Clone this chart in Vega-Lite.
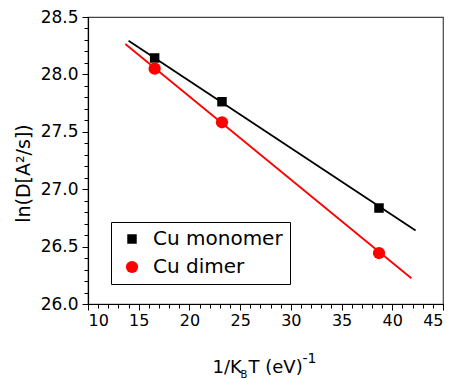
{
  "$schema": "https://vega.github.io/schema/vega-lite/v6.json",
  "width": 355,
  "height": 287,
  "autosize": "none",
  "padding": {"left": 88, "top": 17, "right": 10, "bottom": 75},
  "background": "white",
  "config": {
    "view": {"stroke": "#444", "strokeWidth": 1.2},
    "font": "DejaVu Sans",
    "axis": {
      "labelFont": "DejaVu Sans", "titleFont": "DejaVu Sans",
      "domainColor": "black", "tickColor": "black", "labelColor": "black", "titleColor": "black",
      "grid": false, "titleFontWeight": "normal", "domainWidth": 1.2, "tickWidth": 1
    }
  },
  "datasets": {
    "pts": [
      {"series": "Cu monomer", "x": 16.57, "y": 28.143},
      {"series": "Cu monomer", "x": 23.21, "y": 27.762},
      {"series": "Cu monomer", "x": 38.69, "y": 26.836},
      {"series": "Cu dimer", "x": 16.57, "y": 28.05},
      {"series": "Cu dimer", "x": 23.21, "y": 27.583},
      {"series": "Cu dimer", "x": 38.69, "y": 26.444}
    ],
    "fit": [
      {"series": "Cu monomer", "x": 14.0, "y": 28.294},
      {"series": "Cu monomer", "x": 42.3, "y": 26.64},
      {"series": "Cu dimer", "x": 13.68, "y": 28.265},
      {"series": "Cu dimer", "x": 41.88, "y": 26.224}
    ]
  },
  "layer": [
    {
      "data": {"name": "fit"},
      "transform": [{"filter": "datum.series === 'Cu monomer'"}],
      "mark": {"type": "line", "color": "black", "strokeWidth": 1.8},
      "encoding": {
        "x": {"field": "x", "type": "quantitative", "scale": {"domain": [10, 45], "nice": false, "zero": false},
          "axis": {"orient": "bottom", "labels": false, "ticks": false, "domain": false, "title": "T (eV)",
            "titleX": 160, "titleY": 68, "titleAlign": "left", "titleBaseline": "alphabetic", "titleFontSize": 18}},
        "y": {"field": "y", "type": "quantitative", "scale": {"domain": [26, 28.5], "nice": false, "zero": false}, "axis": null}
      }
    },
    {
      "data": {"name": "fit"},
      "transform": [{"filter": "datum.series === 'Cu dimer'"}],
      "mark": {"type": "line", "color": "#ff0000", "strokeWidth": 1.8},
      "encoding": {
        "x": {"field": "x", "type": "quantitative",
          "axis": {"orient": "bottom", "labels": false, "ticks": false, "domain": false, "title": "-1",
            "titleX": 214, "titleY": 58, "titleAlign": "left", "titleBaseline": "alphabetic", "titleFontSize": 14}},
        "y": {"field": "y", "type": "quantitative", "axis": null}
      }
    },
    {
      "data": {"name": "pts"},
      "transform": [{"filter": "datum.series === 'Cu monomer'"}],
      "mark": {"type": "point", "filled": true, "opacity": 1},
      "encoding": {
        "x": {"field": "x", "type": "quantitative",
          "axis": {"orient": "bottom", "values": [10, 15, 20, 25, 30, 35, 40, 45], "tickSize": 6, "labelFontSize": 16, "labelPadding": 2,
            "title": "1/K", "titleX": 124, "titleY": 68, "titleAlign": "left", "titleBaseline": "alphabetic", "titleFontSize": 18}},
        "y": {"field": "y", "type": "quantitative",
          "axis": {"orient": "left", "values": [26, 26.5, 27, 27.5, 28, 28.5], "format": ".1f", "tickSize": 6, "labelFontSize": 17, "labelPadding": 4,
            "title": "ln(D[A²/s])", "titleFontSize": 19, "titlePadding": 7, "titleY": 156}},
        "color": {"field": "series", "type": "nominal", "scale": {"domain": ["Cu monomer", "Cu dimer"], "range": ["black", "#ff0000"]},
          "legend": {"orient": "none", "legendX": 23, "legendY": 205, "title": null, "strokeColor": "black", "fillColor": "white",
            "padding": 7, "labelFontSize": 20, "labelFont": "DejaVu Sans", "labelColor": "black", "rowPadding": 8, "symbolOffset": 4, "labelOffset": 11}},
        "shape": {"field": "series", "type": "nominal", "scale": {"domain": ["Cu monomer", "Cu dimer"], "range": ["square", "circle"]}},
        "size": {"field": "series", "type": "nominal", "scale": {"domain": ["Cu monomer", "Cu dimer"], "range": [90, 150]}}
      }
    },
    {
      "data": {"name": "pts"},
      "transform": [{"filter": "datum.series === 'Cu dimer'"}],
      "mark": {"type": "point", "filled": true, "opacity": 1},
      "encoding": {
        "x": {"field": "x", "type": "quantitative",
          "axis": {"orient": "bottom", "values": [10,11,12,13,14,15,16,17,18,19,20,21,22,23,24,25,26,27,28,29,30,31,32,33,34,35,36,37,38,39,40,41,42,43,44,45],
            "labels": false, "tickSize": 4, "domain": false,
            "title": "B", "titleX": 152, "titleY": 73, "titleAlign": "left", "titleBaseline": "alphabetic", "titleFontSize": 10}},
        "y": {"field": "y", "type": "quantitative",
          "axis": {"orient": "left", "values": [26,26.1,26.2,26.3,26.4,26.5,26.6,26.7,26.8,26.9,27,27.1,27.2,27.3,27.4,27.5,27.6,27.7,27.8,27.9,28,28.1,28.2,28.3,28.4,28.5],
            "labels": false, "tickSize": 4, "domain": false, "title": null}},
        "color": {"field": "series", "type": "nominal"},
        "shape": {"field": "series", "type": "nominal"},
        "size": {"field": "series", "type": "nominal"}
      }
    }
  ],
  "resolve": {"axis": {"x": "independent", "y": "independent"}}
}
